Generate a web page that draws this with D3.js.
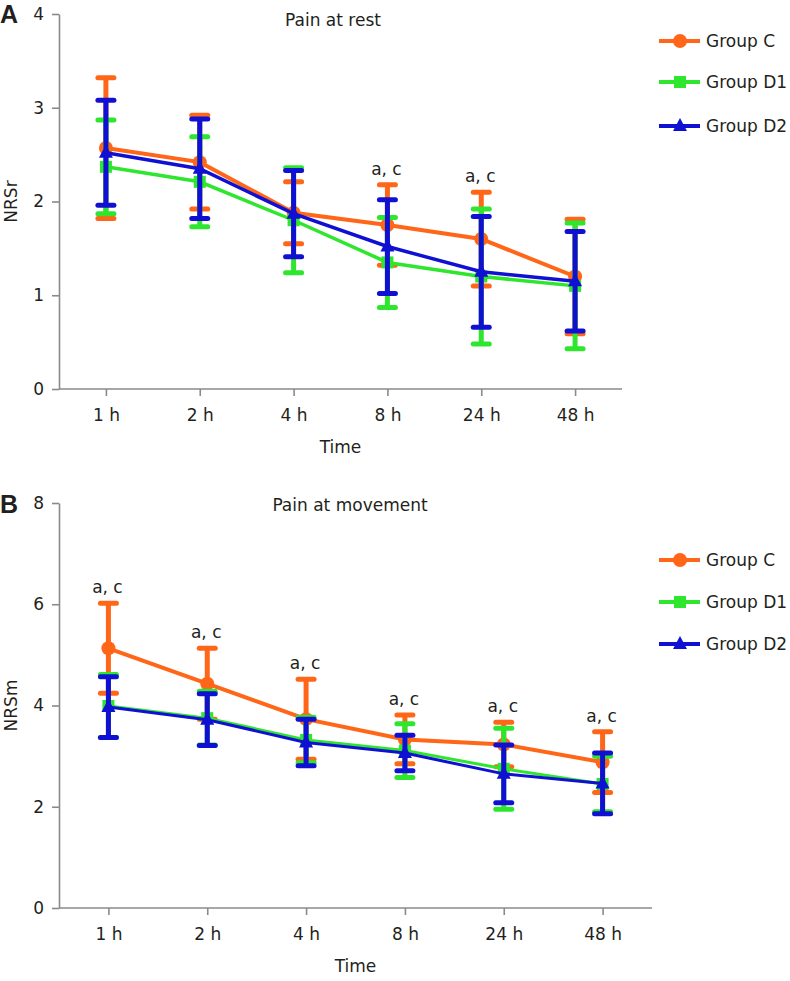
<!DOCTYPE html>
<html>
<head>
<meta charset="utf-8">
<script src="https://cdn.jsdelivr.net/npm/d3@7/dist/d3.min.js"></script>
<style>
  html, body { margin: 0; padding: 0; background: #fff; }
  svg { display: block; }
  text { font-family: "DejaVu Sans", Verdana, sans-serif; fill: #231F20; }
</style>
</head>
<body>
<svg id="chart" width="790" height="981"></svg>
<script>
// ---- data ----
const categories = ["1 h", "2 h", "4 h", "8 h", "24 h", "48 h"];
const seriesNames = ["Group C", "Group D1", "Group D2"];
const seriesColors = ["#FF6618", "#2EE62E", "#1010D2"];
const seriesShapes = ["circle", "square", "triangle"];

// Panel A – pain at rest (mean, SD)
const restC_mean  = [2.57, 2.42, 1.88, 1.75, 1.60, 1.20];
const restC_sd    = [0.75, 0.50, 0.33, 0.43, 0.50, 0.61];
const restD1_mean = [2.37, 2.21, 1.80, 1.35, 1.20, 1.10];
const restD1_sd   = [0.50, 0.48, 0.56, 0.48, 0.72, 0.67];
const restD2_mean = [2.52, 2.35, 1.87, 1.52, 1.25, 1.15];
const restD2_sd   = [0.56, 0.53, 0.46, 0.50, 0.59, 0.53];
const restAnnot   = ["", "", "", "a, c", "a, c", ""];
const restTicks   = [0, 1, 2, 3, 4];

// Panel B – pain at movement (mean, SD)
const moveC_mean  = [5.13, 4.43, 3.73, 3.33, 3.23, 2.88];
const moveC_sd    = [0.89, 0.70, 0.79, 0.48, 0.44, 0.60];
const moveD1_mean = [3.99, 3.75, 3.32, 3.11, 2.75, 2.45];
const moveD1_sd   = [0.62, 0.53, 0.45, 0.53, 0.80, 0.55];
const moveD2_mean = [3.97, 3.72, 3.27, 3.06, 2.65, 2.46];
const moveD2_sd   = [0.60, 0.51, 0.46, 0.35, 0.57, 0.60];
const moveAnnot   = ["a, c", "a, c", "a, c", "a, c", "a, c", "a, c"];
const moveTicks   = [0, 2, 4, 6, 8];

const svg = d3.select("#chart");

function drawPanel(cfg) {
  const g = svg.append("g");
  const x = d3.scalePoint().domain(categories).range([cfg.left, cfg.right]).padding(0.5);
  const y = d3.scaleLinear().domain([0, cfg.ymax]).range([cfg.bottom, cfg.top]);

  // axes
  const yAxis = g.append("g").attr("transform", `translate(${cfg.left},0)`)
    .call(d3.axisLeft(y).tickValues(cfg.ticks).tickFormat(d3.format("d"))
      .tickSize(7).tickPadding(8).tickSizeOuter(0));
  const xAxis = g.append("g").attr("transform", `translate(0,${cfg.bottom})`)
    .call(d3.axisBottom(x).tickSize(7).tickPadding(13).tickSizeOuter(0));
  [yAxis, xAxis].forEach(a => {
    a.select(".domain").attr("stroke", "#8a8a8a").attr("stroke-width", 1.6);
    a.selectAll(".tick line").attr("stroke", "#8a8a8a").attr("stroke-width", 1.6);
    a.selectAll(".tick text").attr("font-size", 17).attr("fill", "#231F20")
      .attr("font-family", "DejaVu Sans, Verdana, sans-serif");
  });
  xAxis.select(".domain").attr("d", `M${cfg.left},0H${cfg.right}`);

  // titles & labels
  g.append("text").attr("x", cfg.titleX).attr("y", cfg.titleY)
    .attr("text-anchor", "middle").attr("font-size", 17).text(cfg.title);
  g.append("text").attr("x", 0).attr("y", cfg.letterY)
    .attr("font-size", 25).attr("font-weight", "bold")
    .style("font-family", "'Liberation Sans', Arial, sans-serif").text(cfg.letter);
  g.append("text")
    .attr("transform", `translate(17,${(cfg.top + cfg.bottom) / 2}) rotate(-90)`)
    .attr("text-anchor", "middle").attr("font-size", 17).text(cfg.ylabel);
  g.append("text").attr("x", (cfg.left + cfg.right) / 2).attr("y", cfg.bottom + 64)
    .attr("text-anchor", "middle").attr("font-size", 17).text("Time");

  // series
  const line = d3.line().x(d => x(d.cat)).y(d => y(d.m));
  cfg.series.forEach((s, si) => {
    const color = seriesColors[si];
    const data = categories.map((c, i) => ({ cat: c, m: s.mean[i], sd: s.sd[i] }));
    const sg = g.append("g");
    sg.selectAll(".eb").data(data).enter().append("line")
      .attr("x1", d => x(d.cat)).attr("x2", d => x(d.cat))
      .attr("y1", d => y(d.m - d.sd)).attr("y2", d => y(d.m + d.sd))
      .attr("stroke", color).attr("stroke-width", 5);
    ["up", "lo"].forEach(k => {
      sg.selectAll(".cap" + k).data(data).enter().append("line")
        .attr("x1", d => x(d.cat) - 8).attr("x2", d => x(d.cat) + 8)
        .attr("y1", d => y(k === "up" ? d.m + d.sd : d.m - d.sd))
        .attr("y2", d => y(k === "up" ? d.m + d.sd : d.m - d.sd))
        .attr("stroke", color).attr("stroke-width", 5).attr("stroke-linecap", "round");
    });
    sg.append("path").datum(data).attr("d", line)
      .attr("fill", "none").attr("stroke", color).attr("stroke-width", cfg.lineW[si]);
    data.forEach(d => drawMarker(sg, seriesShapes[si], x(d.cat), y(d.m), color));
  });

  // annotations
  const capTop = categories.map((c, i) => d3.max(cfg.series, s => s.mean[i] + s.sd[i]));
  g.selectAll(".ann").data(categories).enter().append("text")
    .attr("x", c => x(c) - 1)
    .attr("y", (c, i) => y(capTop[i]) - 10)
    .attr("text-anchor", "middle").attr("font-size", 17)
    .text((c, i) => cfg.annot[i]);

  // legend
  seriesNames.forEach((n, i) => {
    const ly = cfg.legendY[i];
    g.append("line").attr("x1", 659).attr("x2", 700).attr("y1", ly).attr("y2", ly)
      .attr("stroke", seriesColors[i]).attr("stroke-width", 4);
    drawMarker(g, seriesShapes[i], 680, ly, seriesColors[i]);
    g.append("text").attr("x", 706).attr("y", ly + 6).attr("font-size", 17).text(n);
  });
}

function drawMarker(g, shape, cx, cy, color) {
  if (shape === "circle") {
    g.append("circle").attr("cx", cx).attr("cy", cy).attr("r", 7).attr("fill", color);
  } else if (shape === "square") {
    g.append("rect").attr("x", cx - 6).attr("y", cy - 6).attr("width", 12).attr("height", 12).attr("fill", color);
  } else {
    g.append("path").attr("d", `M${cx},${cy - 8}L${cx + 7},${cy + 5}L${cx - 7},${cy + 5}Z`).attr("fill", color);
  }
}

drawPanel({
  left: 59, right: 622, top: 14, bottom: 389, ymax: 4, ticks: restTicks,
  title: "Pain at rest", titleX: 333, titleY: 26, letter: "A", letterY: 23,
  ylabel: "NRSr", annot: restAnnot, lineW: [4, 3.5, 3.5],
  legendY: [41, 82, 126],
  series: [
    { mean: restC_mean, sd: restC_sd },
    { mean: restD1_mean, sd: restD1_sd },
    { mean: restD2_mean, sd: restD2_sd }
  ]
});

drawPanel({
  left: 59, right: 652, top: 503, bottom: 908, ymax: 8, ticks: moveTicks,
  title: "Pain at movement", titleX: 350, titleY: 511, letter: "B", letterY: 513,
  ylabel: "NRSm", annot: moveAnnot, lineW: [4, 3, 3],
  legendY: [560, 602, 644],
  series: [
    { mean: moveC_mean, sd: moveC_sd },
    { mean: moveD1_mean, sd: moveD1_sd },
    { mean: moveD2_mean, sd: moveD2_sd }
  ]
});
</script>
</body>
</html>
